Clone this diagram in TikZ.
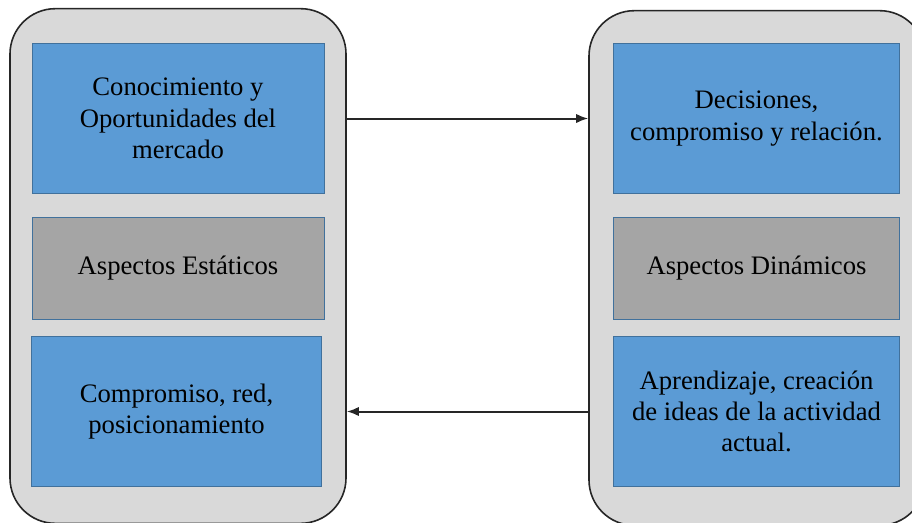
\documentclass[tikz,border=0pt]{standalone}
\usepackage{fontspec}
\setmainfont{Liberation Serif}
\usetikzlibrary{arrows.meta}
\definecolor{CajaAzul}{HTML}{5B9BD5}
\definecolor{BordeAzul}{HTML}{41719C}
\definecolor{CajaGris}{HTML}{A5A5A5}
\definecolor{FondoPanel}{HTML}{D9D9D9}
\tikzset{
    panel/.style={
        draw=black!85, line width=1.2pt, fill=FondoPanel, rounded corners=34pt,
        minimum width=252pt, minimum height=386pt, inner sep=0pt
    },
    caja/.style={
        draw=BordeAzul, line width=0.6pt, align=center, inner sep=0pt,
        font=\fontsize{20}{23.5}\selectfont
    },
    caja azul/.style={caja, fill=CajaAzul},
    caja gris/.style={caja, fill=CajaGris},
    flecha/.style={draw=black!85, line width=1.5pt, -{Latex[length=9pt, width=7pt]}}
}

\begin{document}
\begin{tikzpicture}[x=0.75pt, y=-0.75pt]

    \useasboundingbox (0,0) rectangle (912,522);
    \clip (0,0) rectangle (912,522);

    % Paneles de fondo
    \node [panel] (izq) at (178,266) {};
    \node [panel] (der) at (757,268) {};

    % Aspectos estáticos
    \node [caja azul, minimum width=219pt, minimum height=113pt] (conoc) at (178,118.5)
        {Conocimiento y\\Oportunidades del\\mercado};
    \node [caja gris, minimum width=219pt, minimum height=76.5pt] (estat) at (178,268)
        {Aspectos Estáticos};
    \node [caja azul, minimum width=217pt, minimum height=113pt] (compr) at (176.5,411.5)
        {Compromiso, red,\\posicionamiento};

    % Aspectos dinámicos
    \node [caja azul, minimum width=215pt, minimum height=113pt] (decis) at (756.5,118.5)
        {Decisiones,\\compromiso y relación.};
    \node [caja gris, minimum width=215pt, minimum height=76.5pt] (dinam) at (756.5,268)
        {Aspectos Dinámicos};
    \node [caja azul, minimum width=215pt, minimum height=113pt] (apren) at (756.5,411.5)
        {Aprendizaje, creación\\de ideas de la actividad\\actual.};

    % Flechas entre paneles
    \draw [flecha] (izq.east |- conoc) -- (der.west |- conoc);
    \draw [flecha] (der.west |- apren) -- (izq.east |- apren);

\end{tikzpicture}
\end{document}
